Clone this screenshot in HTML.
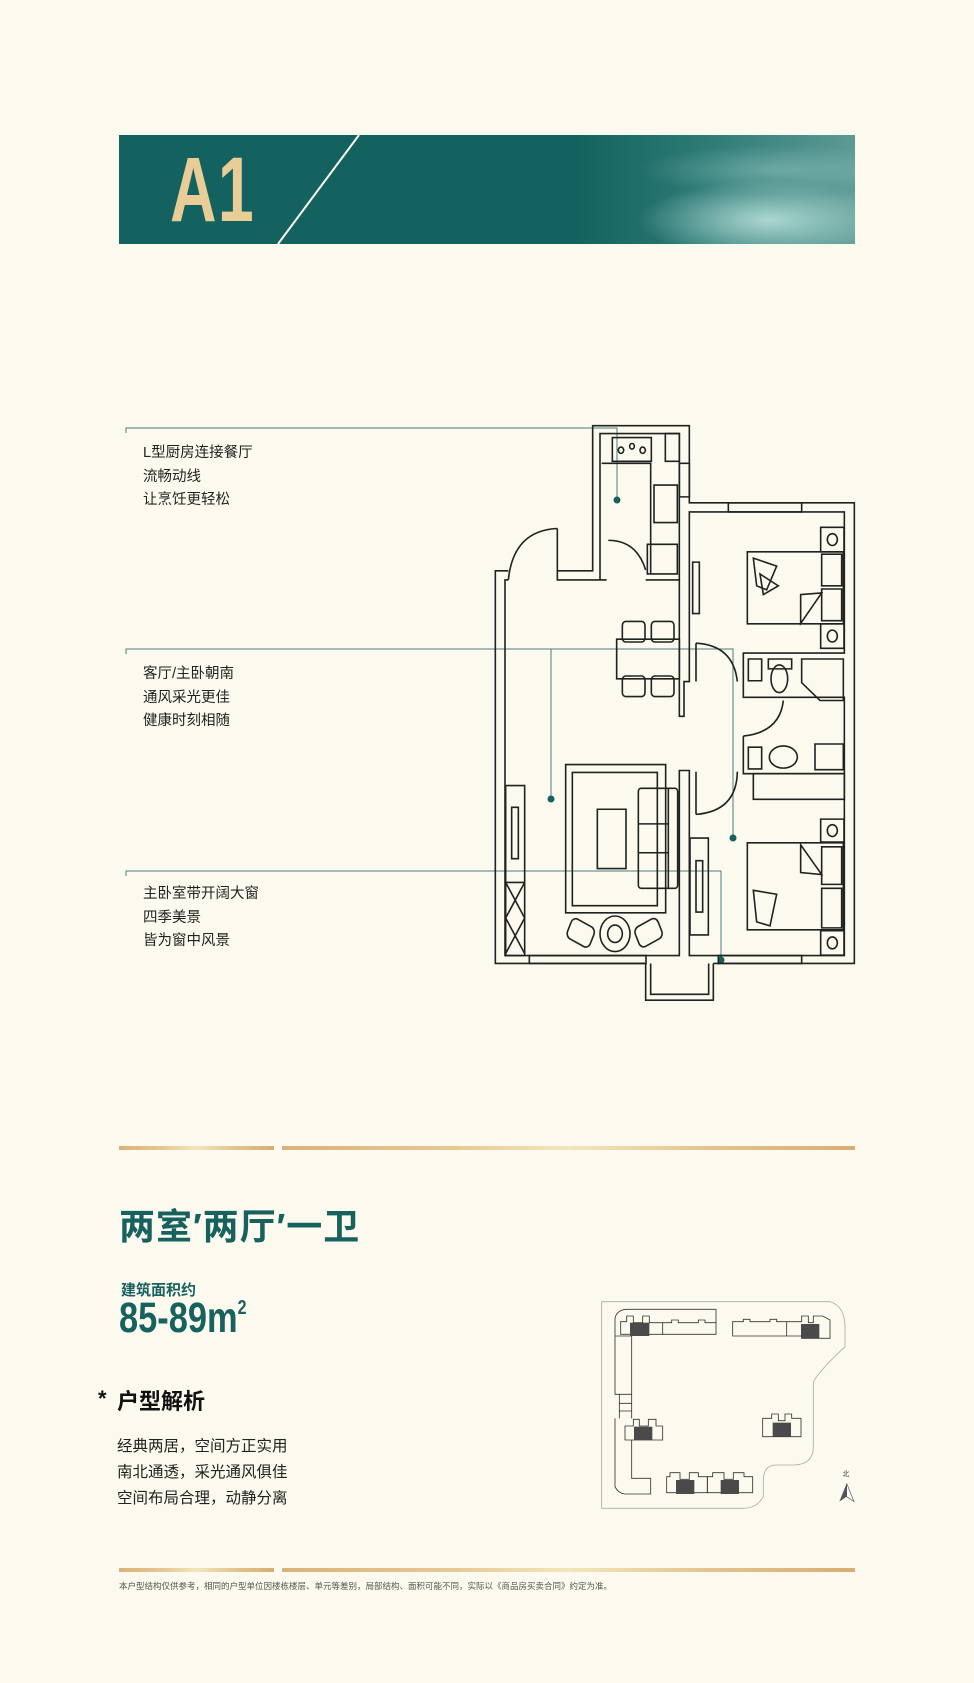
<!DOCTYPE html>
<html><head><meta charset="utf-8">
<style>
html,body{margin:0;padding:0;}
body{width:974px;height:1683px;background:#fcfaee;position:relative;overflow:hidden;font-family:"Liberation Sans","Noto Sans CJK SC",sans-serif;}
.abs{position:absolute;}
.banner{left:119px;top:135px;width:736px;height:109px;background:
radial-gradient(ellipse 130px 40px at 650px 85px, rgba(190,228,222,0.85), rgba(190,228,222,0) 100%),
radial-gradient(ellipse 140px 25px at 660px 35px, rgba(150,200,195,0.5), rgba(150,200,195,0) 100%),
linear-gradient(90deg,#14625f 0%,#14625f 62%,#2e7b76 80%,#5d9a94 100%);overflow:hidden;}
.a1{left:170px;top:138px;font-size:92px;font-weight:bold;color:#e8cd96;transform:scaleX(0.7);transform-origin:left top;letter-spacing:2px;}
.ann{font-size:14.5px;color:#222;line-height:23.6px;}
.gold{height:4px;background:linear-gradient(90deg,#d9b27a,#e6c995 30%,#f3e6bc 50%,#e2c38e 75%,#d7ae74);}
.teal{color:#17615e;font-weight:bold;}
</style></head><body>

<div class="abs banner">
<svg width="736" height="109" style="position:absolute;left:0;top:0"><line x1="240" y1="0" x2="159" y2="109" stroke="#fcfaee" stroke-width="2"/></svg>
</div>
<div class="abs a1">A1</div>

<svg class="abs" style="left:0;top:0" width="974" height="1100">
<g stroke="#4b7f7c" stroke-width="1" fill="none">
<polyline points="126,433 126,428 617,428 617,500"/>
<polyline points="126,654 126,649 733,649 733,838"/>
<line x1="551" y1="649" x2="551" y2="799"/>
<polyline points="126,876 126,871 721,871 721,960"/>
</g>
<g fill="#17615e"><circle cx="617" cy="500" r="3.5"/><circle cx="733" cy="838" r="3.5"/><circle cx="551" cy="799" r="3.5"/><circle cx="721" cy="960" r="3.5"/></g>
</svg>

<div class="abs ann" style="left:143px;top:442px">L型厨房连接餐厅<br>流畅动线<br>让烹饪更轻松</div>
<div class="abs ann" style="left:143px;top:663px">客厅/主卧朝南<br>通风采光更佳<br>健康时刻相随</div>
<div class="abs ann" style="left:143px;top:883px">主卧室带开阔大窗<br>四季美景<br>皆为窗中风景</div>

<svg class="abs" style="left:480px;top:400px" width="400" height="620" viewBox="0 0 1200 1568" preserveAspectRatio="none">
<g fill="none" stroke="#1e2322" stroke-width="1.6">
<polyline vector-effect="non-scaling-stroke" points="85,432 46,432 46,1425 497,1425"/>
<polyline vector-effect="non-scaling-stroke" points="700,1425 1123,1425 1123,260 628,260 628,65 338,65 338,432 232,432 232,455 380,455"/>
<polyline vector-effect="non-scaling-stroke" points="497,455 598,455 598,800 612,800 612,712 628,712 628,283 1093,283 1093,640 790,640 790,752 1093,752 1093,1405 628,1405 628,937 598,937 598,1405 75,1405 75,455 85,455"/>
<polyline vector-effect="non-scaling-stroke" points="360,455 360,85 598,85 598,455"/>
<polyline vector-effect="non-scaling-stroke" points="232,325 232,432"/>
<path vector-effect="non-scaling-stroke" d="M85,455 Q100,330 232,325"/>
<path vector-effect="non-scaling-stroke" d="M385,355 Q470,355 497,430"/>
<path vector-effect="non-scaling-stroke" d="M648,615 Q760,620 772,712"/>
<path vector-effect="non-scaling-stroke" d="M790,850 Q900,840 910,760"/>
<path vector-effect="non-scaling-stroke" d="M648,1048 Q770,1040 772,940"/>
<polyline vector-effect="non-scaling-stroke" points="648,615 648,712"/>
<polyline vector-effect="non-scaling-stroke" points="648,940 648,1048"/>
<polyline vector-effect="non-scaling-stroke" points="790,850 790,945 1093,945"/>
<rect vector-effect="non-scaling-stroke" x="820" y="945" width="273" height="65"/>
<polyline vector-effect="non-scaling-stroke" points="497,1425 497,1518 700,1518 700,1425"/>
<polyline vector-effect="non-scaling-stroke" points="512,1425 512,1503 686,1503 686,1425"/>
<rect vector-effect="non-scaling-stroke" x="148" y="1405" width="350" height="20"/>
<rect vector-effect="non-scaling-stroke" x="715" y="1405" width="250" height="20"/>
<rect vector-effect="non-scaling-stroke" x="745" y="260" width="220" height="23"/>
<rect vector-effect="non-scaling-stroke" x="598" y="160" width="30" height="85"/>
<rect vector-effect="non-scaling-stroke" x="397" y="95" width="117" height="60"/>
<circle vector-effect="non-scaling-stroke" cx="423" cy="127" r="8"/><circle vector-effect="non-scaling-stroke" cx="456" cy="117" r="7"/><circle vector-effect="non-scaling-stroke" cx="488" cy="127" r="8"/>
<rect vector-effect="non-scaling-stroke" x="556" y="85" width="42" height="70"/>
<polyline vector-effect="non-scaling-stroke" points="365,160 512,160 512,440"/>
<rect vector-effect="non-scaling-stroke" x="522" y="215" width="70" height="95"/>
<rect vector-effect="non-scaling-stroke" x="502" y="365" width="90" height="75"/>
<rect vector-effect="non-scaling-stroke" x="410" y="605" width="188" height="100"/>
<rect vector-effect="non-scaling-stroke" x="427" y="560" width="68" height="52" rx="10"/>
<rect vector-effect="non-scaling-stroke" x="514" y="560" width="68" height="52" rx="10"/>
<rect vector-effect="non-scaling-stroke" x="427" y="698" width="68" height="52" rx="10"/>
<rect vector-effect="non-scaling-stroke" x="514" y="698" width="68" height="52" rx="10"/>
<rect vector-effect="non-scaling-stroke" x="257" y="922" width="300" height="375"/>
<rect vector-effect="non-scaling-stroke" x="277" y="942" width="255" height="337"/>
<rect vector-effect="non-scaling-stroke" x="352" y="1035" width="86" height="150"/>
<rect vector-effect="non-scaling-stroke" x="475" y="982" width="118" height="253" rx="8"/>
<line vector-effect="non-scaling-stroke" x1="565" y1="982" x2="565" y2="1235"/>
<line vector-effect="non-scaling-stroke" x1="475" y1="1072" x2="565" y2="1072"/>
<line vector-effect="non-scaling-stroke" x1="475" y1="1145" x2="565" y2="1145"/>
<circle vector-effect="non-scaling-stroke" cx="405" cy="1350" r="45"/><circle vector-effect="non-scaling-stroke" cx="405" cy="1350" r="22"/>
<rect vector-effect="non-scaling-stroke" x="265" y="1320" width="75" height="55" rx="15" transform="rotate(25 302 1347)"/>
<rect vector-effect="non-scaling-stroke" x="468" y="1320" width="75" height="55" rx="15" transform="rotate(-25 505 1347)"/>
<rect vector-effect="non-scaling-stroke" x="77" y="975" width="57" height="430"/>
<line vector-effect="non-scaling-stroke" x1="77" y1="1220" x2="134" y2="1220"/>
<path vector-effect="non-scaling-stroke" d="M77,1220 L134,1310 M134,1220 L77,1310 M77,1310 L134,1400 M134,1310 L77,1400"/>
<rect vector-effect="non-scaling-stroke" x="95" y="1030" width="20" height="130"/>
<rect vector-effect="non-scaling-stroke" x="638" y="410" width="20" height="130"/>
<rect vector-effect="non-scaling-stroke" x="630" y="1108" width="55" height="245"/>
<rect vector-effect="non-scaling-stroke" x="648" y="1165" width="20" height="130"/>
<rect vector-effect="non-scaling-stroke" x="802" y="384" width="288" height="182"/>
<rect vector-effect="non-scaling-stroke" x="1025" y="390" width="60" height="80"/><rect vector-effect="non-scaling-stroke" x="1025" y="478" width="60" height="80"/>
<path vector-effect="non-scaling-stroke" d="M962,492 L1025,488 L962,565 Z"/>
<path vector-effect="non-scaling-stroke" d="M820,400 L890,420 L860,480 L830,470 Z M840,440 L895,470 L850,492 Z"/>
<rect vector-effect="non-scaling-stroke" x="1022" y="322" width="70" height="62"/><circle vector-effect="non-scaling-stroke" cx="1057" cy="353" r="15"/>
<rect vector-effect="non-scaling-stroke" x="1022" y="566" width="70" height="62"/><circle vector-effect="non-scaling-stroke" cx="1057" cy="597" r="15"/>
<rect vector-effect="non-scaling-stroke" x="802" y="1120" width="288" height="220"/>
<rect vector-effect="non-scaling-stroke" x="1025" y="1130" width="60" height="95"/><rect vector-effect="non-scaling-stroke" x="1025" y="1235" width="60" height="100"/>
<path vector-effect="non-scaling-stroke" d="M962,1125 L1025,1200 L962,1195 Z"/>
<path vector-effect="non-scaling-stroke" d="M820,1240 L890,1250 L870,1330 L830,1320 Z"/>
<rect vector-effect="non-scaling-stroke" x="1022" y="1060" width="70" height="58"/><circle vector-effect="non-scaling-stroke" cx="1057" cy="1089" r="15"/>
<rect vector-effect="non-scaling-stroke" x="1022" y="1342" width="70" height="62"/><circle vector-effect="non-scaling-stroke" cx="1057" cy="1373" r="15"/>
<rect vector-effect="non-scaling-stroke" x="805" y="655" width="40" height="55"/>
<ellipse vector-effect="non-scaling-stroke" cx="898" cy="705" rx="25" ry="35"/><rect vector-effect="non-scaling-stroke" x="865" y="655" width="70" height="25"/>
<path vector-effect="non-scaling-stroke" d="M965,655 L1090,655 L1090,760 L1020,760 L965,715 Z"/>
<rect vector-effect="non-scaling-stroke" x="805" y="878" width="40" height="55"/>
<ellipse vector-effect="non-scaling-stroke" cx="910" cy="903" rx="42" ry="28"/>
<rect vector-effect="non-scaling-stroke" x="1005" y="870" width="85" height="65"/>
</g>
</svg>

<div class="abs gold" style="left:119px;top:1146px;width:155px;"></div>
<div class="abs gold" style="left:282px;top:1146px;width:573px;"></div>

<div class="abs teal" style="left:119px;top:1205px;font-size:36px;line-height:44px;letter-spacing:1px;">两室′两厅′一卫</div>
<div class="abs teal" style="left:121px;top:1282px;font-size:15px;line-height:18px;">建筑面积约</div>
<div class="abs teal" style="left:119px;top:1296px;font-size:43px;line-height:44px;transform:scaleX(0.8);transform-origin:left top;">85-89m<sup style="font-size:20px;vertical-align:18px;line-height:0">2</sup></div>

<div class="abs" style="left:98px;top:1386px;font-size:22px;font-weight:bold;color:#111;">*</div>
<div class="abs" style="left:117px;top:1388px;font-size:22px;font-weight:bold;color:#111;line-height:28px;">户型解析</div>
<div class="abs" style="left:117px;top:1434px;font-size:15.5px;color:#222;line-height:26px;">经典两居，空间方正实用<br>南北通透，采光通风俱佳<br>空间布局合理，动静分离</div>

<svg class="abs" style="left:600px;top:1300px" width="260" height="215" viewBox="0 0 780 645">
<g fill="none" stroke="#333" stroke-width="2.5">
<path d="M5,5 L690,5 Q735,20 735,80 L735,140 Q640,230 640,250 L640,440 Q640,495 580,495 L530,495 Q490,495 490,540 L490,590 Q470,625 430,625 L5,625 Z" stroke="#aaa"/>
<path d="M45,108 L45,55 Q50,30 80,28 L348,28 L348,103 L188,103 M45,108 L95,108 L95,355"/>
<path d="M45,108 L45,283 L95,283 M58,283 L58,355 M58,310 L95,310 M58,333 L95,333"/>
<path d="M45,355 L45,560 Q55,580 75,582 L152,582 L152,535 L95,535 L95,420"/>
<path d="M62,103 L62,65 L80,65 L80,48 L100,48 L100,68 L128,68 L128,48 L148,48 L148,68 L188,68 L188,103 Z"/>
<path d="M188,68 L215,68 L215,60 L235,60 L235,68 L295,68 L295,60 L315,60 L315,68 L348,68"/>
<path d="M398,108 L398,65 L430,65 L430,58 L450,58 L450,65 L510,65 L510,58 L530,58 L530,65 L605,65 L605,48 L625,48 L625,68 L640,68 L640,48 L668,48 L690,60 L690,115 L605,115 L605,108 Z"/>
<line x1="560" y1="65" x2="560" y2="108"/>
<path d="M75,420 L75,378 L100,378 L100,358 L118,358 L118,378 L145,378 L145,358 L168,358 L168,378 L188,378 L188,420 Z"/>
<path d="M488,410 L488,355 L515,355 L515,342 L535,342 L535,362 L555,362 L555,342 L575,342 L575,355 L603,355 L603,410 Z"/>
<path d="M200,578 L200,530 L210,530 L210,518 L240,518 L240,538 L268,538 L268,518 L295,518 L295,530 L322,530 L322,578 Z"/>
<path d="M322,578 L322,530 L338,530 L338,518 L372,518 L372,538 L400,538 L400,518 L432,518 L432,530 L458,530 L458,578 Z"/>
</g>
<g fill="#4a4a4a">
<rect x="90" y="68" width="58" height="40"/><rect x="603" y="72" width="55" height="42"/>
<rect x="102" y="380" width="55" height="40"/><rect x="518" y="368" width="55" height="42"/>
<rect x="228" y="540" width="55" height="42"/><rect x="362" y="540" width="55" height="42"/>
</g>
<text x="728" y="528" font-size="20" font-family="Liberation Sans,Noto Sans CJK SC,sans-serif" fill="#444">北</text>
<path d="M740,550 L718,605 L740,590 Z" fill="#555"/><path d="M740,550 L762,605 L740,590 Z" fill="#fff" stroke="#555" stroke-width="2"/>
</svg>

<div class="abs gold" style="left:119px;top:1568px;width:155px;"></div>
<div class="abs gold" style="left:282px;top:1568px;width:573px;"></div>
<div class="abs" style="left:119px;top:1580px;font-size:8.5px;color:#555;white-space:nowrap;">本户型结构仅供参考，相同的户型单位因楼栋楼层、单元等差别，局部结构、面积可能不同，实际以《商品房买卖合同》约定为准。</div>

</body></html>
